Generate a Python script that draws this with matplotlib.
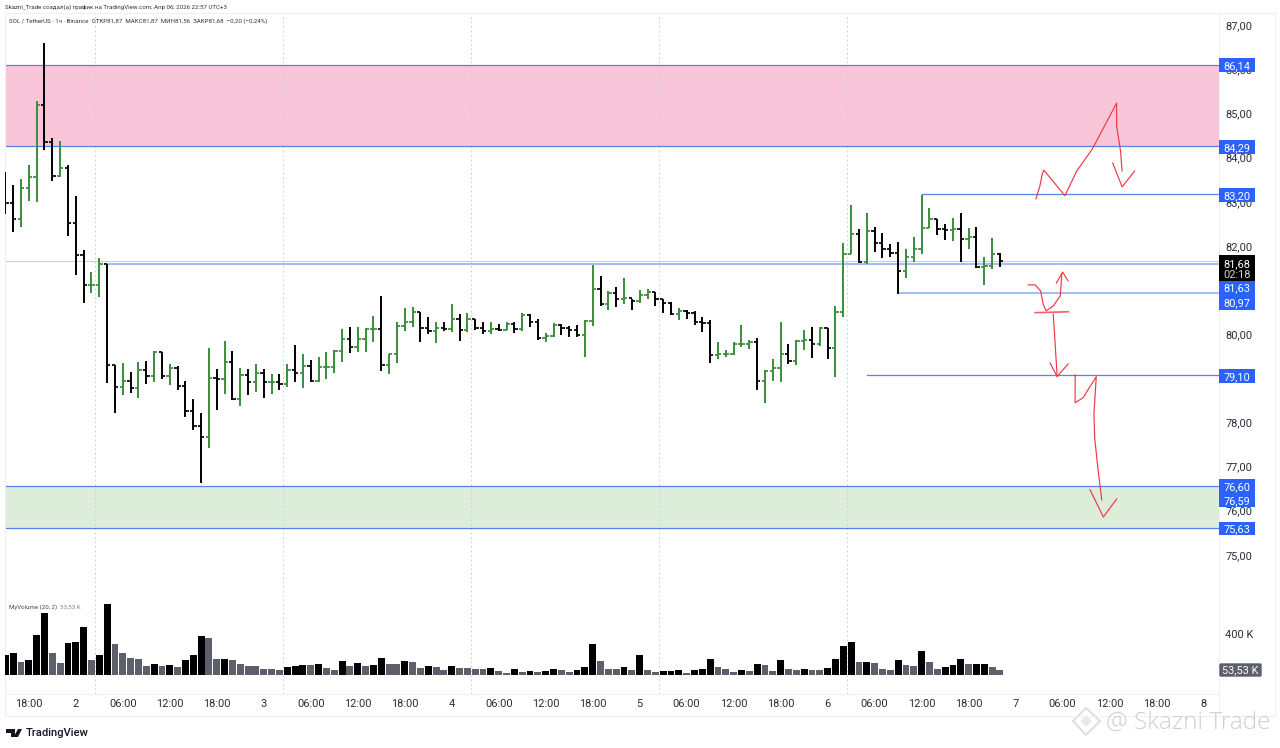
import numpy as np
import matplotlib
matplotlib.use("Agg")
from matplotlib import pyplot as plt
from matplotlib.lines import Line2D
from matplotlib.patches import Polygon, Rectangle, FancyBboxPatch
from matplotlib.ticker import FuncFormatter
from matplotlib.transforms import ScaledTranslation

plt.rcParams['font.family'] = ['Roboto', 'DejaVu Sans']

W, H = 1280, 748

# hourly bars, SOL / TetherUS
highs = [83.71, 83.41, 83.55, 83.87, 85.32, 86.63, 84.48, 84.41, 83.87, 83.17,
         81.94, 81.44, 81.76, 81.63, 79.34, 79.38, 79.18, 79.41, 79.43, 79.65,
         79.63, 79.36, 79.31, 78.97, 78.57, 78.25, 79.72, 79.25, 79.88, 79.65,
         79.27, 79.25, 79.36, 79.25, 79.13, 79.13, 79.36, 79.79, 79.59, 79.45,
         79.52, 79.63, 79.68, 80.15, 80.20, 80.20, 80.18, 80.45, 80.90, 79.59,
         80.31, 80.63, 80.65, 80.54, 80.42, 80.31, 80.31, 80.72, 80.49, 80.52,
         80.38, 80.31, 80.31, 80.27, 80.31, 80.31, 80.52, 80.49, 80.38, 80.06,
         80.29, 80.27, 80.22, 80.24, 80.36, 81.61, 81.35, 81.01, 81.10, 81.31,
         80.83, 81.04, 81.06, 80.99, 80.83, 80.76, 80.63, 80.58, 80.56, 80.42,
         80.36, 79.86, 79.68, 79.86, 80.24, 79.90, 79.95, 79.22, 79.47, 80.31,
         79.81, 79.90, 80.13, 80.20, 80.20, 80.18, 80.67, 82.10, 82.96, 82.42,
         82.78, 82.46, 82.33, 82.08, 82.12, 81.96, 82.24, 83.19, 82.89, 82.64,
         82.53, 82.67, 82.78, 82.44, 82.46, 81.78, 82.21, 81.87]
lows = [82.76, 82.35, 82.46, 83.05, 83.03, 84.21, 83.51, 83.60, 82.26, 81.38,
        80.74, 80.97, 80.88, 78.93, 78.25, 78.66, 78.70, 78.59, 78.91, 78.95,
        79.02, 78.88, 78.77, 78.16, 77.87, 76.66, 77.46, 78.32, 78.68, 78.54,
        78.41, 78.66, 78.73, 78.59, 78.68, 78.77, 78.84, 78.95, 78.82, 78.95,
        78.95, 79.02, 79.16, 79.41, 79.61, 79.63, 79.63, 79.86, 79.20, 79.13,
        79.38, 80.11, 80.20, 79.86, 80.04, 79.84, 80.11, 80.08, 79.88, 80.08,
        80.13, 80.04, 80.04, 80.11, 80.13, 80.06, 80.11, 80.20, 79.90, 79.86,
        79.97, 80.02, 79.97, 79.97, 79.52, 80.22, 80.67, 80.58, 80.65, 80.72,
        80.58, 80.74, 80.83, 80.67, 80.52, 80.47, 80.36, 80.38, 80.24, 80.08,
        79.38, 79.47, 79.52, 79.56, 79.75, 79.70, 78.77, 78.48, 78.97, 78.95,
        79.36, 79.34, 79.68, 79.50, 79.77, 79.47, 79.07, 80.42, 81.85, 81.65,
        81.63, 81.90, 81.76, 81.78, 80.95, 81.31, 81.67, 81.85, 82.44, 82.28,
        82.17, 82.15, 81.67, 81.96, 81.53, 81.15, 81.51, 81.56]
closes = [83.01, 82.64, 83.35, 83.60, 85.23, 84.39, 83.62, 83.80, 82.55, 81.83,
          81.15, 81.15, 81.63, 79.34, 78.84, 78.97, 78.82, 79.22, 79.09, 79.63,
          79.09, 79.27, 78.86, 78.30, 77.96, 77.71, 79.04, 79.02, 79.41, 78.57,
          79.11, 78.95, 79.16, 78.95, 78.95, 78.91, 79.22, 79.16, 79.31, 78.97,
          79.29, 79.29, 79.65, 79.93, 79.75, 79.93, 80.15, 80.15, 79.34, 79.59,
          80.22, 80.31, 80.54, 80.18, 80.11, 80.18, 80.15, 80.38, 80.13, 80.38,
          80.18, 80.11, 80.15, 80.13, 80.27, 80.15, 80.47, 80.31, 79.95, 79.99,
          80.24, 80.18, 80.13, 80.02, 80.33, 81.06, 80.72, 80.97, 80.83, 80.86,
          80.79, 80.92, 80.99, 80.83, 80.74, 80.49, 80.56, 80.52, 80.31, 80.29,
          79.56, 79.59, 79.59, 79.81, 79.81, 79.86, 78.97, 79.20, 79.27, 79.59,
          79.43, 79.88, 79.90, 79.81, 80.18, 79.72, 80.54, 81.85, 82.30, 81.67,
          82.37, 82.10, 81.96, 81.87, 81.46, 81.78, 81.96, 82.44, 82.64, 82.42,
          82.40, 82.42, 82.19, 82.24, 81.56, 81.58, 81.85, 81.68]
first_open = 83.40

# volume in thousands
volumes = [198, 218, 127, 146, 387, 608, 215, 114, 312, 322,
           465, 146, 198, 692, 302, 211, 166, 159, 88, 107,
           91, 98, 81, 146, 198, 384, 361, 153, 159, 143,
           107, 91, 90, 62, 55, 52, 81, 91, 98, 96,
           110, 68, 52, 136, 88, 120, 90, 94, 166, 110,
           104, 136, 130, 72, 91, 81, 52, 88, 72, 68,
           62, 58, 68, 36, 23, 62, 33, 35, 26, 36,
           55, 46, 29, 46, 81, 299, 140, 62, 60, 81,
           46, 198, 46, 33, 36, 39, 46, 20, 49, 55,
           156, 78, 58, 33, 49, 36, 104, 102, 42, 150,
           58, 49, 62, 49, 46, 65, 156, 286, 325, 130,
           132, 117, 62, 49, 146, 101, 88, 234, 124, 58,
           75, 98, 159, 104, 107, 109, 75, 53.53]

time_labels = ['18:00', '2', '06:00', '12:00', '18:00', '3', '06:00', '12:00', '18:00', '4',
               '06:00', '12:00', '18:00', '5', '06:00', '12:00', '18:00', '6', '06:00', '12:00',
               '18:00', '7', '06:00', '12:00', '18:00', '8']
session_breaks = [11.5, 35.5, 59.5, 83.5, 107.5]
# 81 and 79 sit fully behind the level tags
price_ticks = [87, 86, 85, 84, 83, 82, 80, 78, 77, 76, 75]

# drawn levels: price, first bar
level_prices = [86.14, 84.29, 81.63, 83.20, 80.97, 79.10, 76.60, 75.63]
level_starts = [0, 0, 13, 117, 114, 110, 0, 0]

# hand drawn red strokes: bar index, price
stroke_a_x = [131.6, 132.1, 132.4, 132.6, 135.3, 136.8, 138.8, 141.9, 141.9, 142.4, 142.6]
stroke_a_y = [83.10, 83.39, 83.66, 83.75, 83.17, 83.73, 84.23, 85.27, 84.75, 84.18, 83.73]
head_a_x = [141.4, 142.6, 144.2]
head_a_y = [83.91, 83.37, 83.73]
stroke_b_x = [130.6, 131.5, 132.2, 132.5, 132.9, 133.8, 134.7, 134.9]
stroke_b_y = [81.15, 81.15, 81.01, 80.72, 80.56, 80.67, 80.90, 81.40]
head_b_x = [134.2, 135.0, 135.7]
head_b_y = [81.19, 81.44, 81.24]
floor_x = [131.5, 135.7]
floor_y = [80.52, 80.54]
stroke_c_x = [133.8, 134.0, 134.3]
stroke_c_y = [80.49, 79.95, 79.09]
head_c_x = [133.4, 134.3, 135.7]
head_c_y = [79.38, 79.07, 79.36]
stroke_d_x = [136.6, 136.6, 137.6, 139.3, 139.0, 139.1, 139.5, 140.0]
stroke_d_y = [79.11, 78.48, 78.59, 79.07, 78.23, 77.68, 77.00, 76.28]
head_d_x = [138.5, 140.2, 141.9]
head_d_y = [76.51, 75.89, 76.30]

BLACK = '#000000'
GREEN = '#388e3c'
VOL_GREY = '#5d606b'
BLUE = '#2962ff'
LINE_BLUE = '#5b7fe8'
PALE_BLUE = '#a5bff5'
RED = '#f23645'
TEXT = '#2a2e39'
FRAME = '#eef0f4'


def fx(x):
    return x / W


def fy(y):
    return 1 - y / H


def px_axes(left, top, right, bottom):
    return fig.add_axes([fx(left), fy(bottom), (right - left) / W, (bottom - top) / H])


def px_line(x0, y0, x1, y1, color=FRAME):
    fig.add_artist(Line2D([fx(x0), fx(x1)], [fy(y0), fy(y1)], color=color, lw=0.8))


def px_poly(points, **kwargs):
    fig.add_artist(Polygon([(fx(x), fy(y)) for x, y in points], closed=True,
                           transform=fig.transFigure, **kwargs))


def price_tag(text, top, bottom, color=BLUE):
    fig.add_artist(Rectangle((fx(1219), fy(bottom)), 36 / W, (bottom - top) / H,
                             transform=fig.transFigure, fc=color, ec='none'))
    fig.text(fx(1237), fy((top + bottom) / 2), text, color='white', fontsize=7.9,
             ha='center', va='center_baseline')


fig = plt.figure(figsize=(W / 100, H / 100), dpi=100, facecolor='white')

opens = [first_open] + closes[:-1]
idx = np.arange(len(closes))
colors = [GREEN if c >= o else BLACK for o, c in zip(opens, closes)]

ax = px_axes(5, 13, 1219, 694)
ax.set_xlim(-0.04, 154.97)
ax.set_ylim(71.88, 87.31)

ax.axhspan(84.29, 86.14, color='#f9c6d9', lw=0, zorder=1)
ax.axhspan(75.63, 76.60, color='#dcedda', lw=0, zorder=1)
for b in session_breaks:
    ax.axvline(b, color='#bcd3f2', lw=0.8, ls=(0, (1.5, 2.5)), zorder=1.5)

ax.axhline(closes[-1], color='#cfcfcf', lw=0.8, zorder=1.6)
for p, s in zip(level_prices, level_starts):
    pale = p in (81.63, 80.97)
    ax.plot([s, 155], [p, p], color=PALE_BLUE if pale else LINE_BLUE,
            lw=1.5 if pale else 0.9, zorder=1.8)

ax.vlines(idx, lows, highs, colors=colors, lw=1.4, zorder=3)
ax.hlines(opens, idx - 0.42, idx, colors=colors, lw=1.25, zorder=3)
ax.hlines(closes, idx, idx + 0.42, colors=colors, lw=1.25, zorder=3)

for sx, sy in [(stroke_a_x, stroke_a_y), (head_a_x, head_a_y), (stroke_b_x, stroke_b_y),
               (head_b_x, head_b_y), (stroke_c_x, stroke_c_y), (head_c_x, head_c_y),
               (stroke_d_x, stroke_d_y), (head_d_x, head_d_y)]:
    ax.plot(sx, sy, color=RED, lw=0.85, zorder=4, solid_joinstyle='round')
ax.plot(floor_x, floor_y, color='#f4606c', lw=1.2, zorder=4)

ax.yaxis.tick_right()
ax.set_yticks(price_ticks)
ax.yaxis.set_major_formatter(FuncFormatter(lambda v, pos: f'{v:.2f}'.replace('.', ',')))
ax.tick_params(axis='y', length=0, pad=4.5, labelsize=7.9, labelcolor=TEXT)
ax.set_xticks([])
# price labels sit a little above their true level
lift = ScaledTranslation(0, 1.5 / 100, fig.dpi_scale_trans)
for label in ax.get_yticklabels():
    label.set_transform(label.get_transform() + lift)
for s in ax.spines.values():
    s.set_color(FRAME)
    s.set_linewidth(0.8)

vol = px_axes(5, 596, 1219, 694)
vol.patch.set_alpha(0)
vol.set_xlim(-0.04, 154.97)
vol.set_ylim(-185, 771)
vol_colors = [BLACK if i == 0 or volumes[i] > volumes[i - 1] else VOL_GREY for i in idx]
vol.bar(idx, volumes, width=0.88, color=vol_colors)
vol.yaxis.tick_right()
vol.set_yticks([400])
vol.set_yticklabels(['400 K'])
vol.tick_params(axis='y', length=0, pad=4.5, labelsize=7.9, labelcolor=TEXT)
vol.set_xticks(np.arange(3, 154, 6))
vol.set_xticklabels(time_labels)
vol.tick_params(axis='x', length=0, pad=3.5, labelsize=7.9, labelcolor=TEXT)
for s in vol.spines.values():
    s.set_visible(False)

# outer frame of the chart
px_line(5, 716, 1275, 716)
px_line(1275, 13, 1275, 716)
px_line(1219, 13, 1275, 13)
px_line(5, 694, 5, 716)
px_line(1219, 694, 1219, 716)

price_tag('86,14', 58, 72)
price_tag('84,29', 140, 154)
price_tag('83,20', 188, 202)
price_tag('81,63', 281, 294)
price_tag('80,97', 294, 310)
price_tag('79,10', 369, 383)
price_tag('76,60', 479, 493)
price_tag('76,59', 493, 507)
price_tag('75,63', 522, 535)

fig.add_artist(Rectangle((fx(1219), fy(281)), 36 / W, 26 / H, transform=fig.transFigure,
                         fc=BLACK, ec='none'))
fig.text(fx(1237), fy(263), '81,68', color='white', fontsize=7.9, ha='center', va='center_baseline')
fig.text(fx(1237), fy(273.5), '02:18', color='#d0d0d0', fontsize=7.9, ha='center', va='center_baseline')

fig.add_artist(FancyBboxPatch((fx(1220), fy(676)), 41 / W, 12 / H, transform=fig.transFigure,
                              boxstyle='round,pad=0,rounding_size=0.001', fc=VOL_GREY, ec=VOL_GREY, lw=1))
fig.text(fx(1240.5), fy(669.5), '53,53 K', color='white', fontsize=7.9, ha='center', va='center_baseline')

fig.text(fx(5), fy(7.5), 'Skazni_Trade создал(а) график на TradingView.com, Апр 06, 2026 22:57 UTC+3',
         fontsize=4.45, color='#333333', va='center')
fig.text(fx(9), fy(21), 'SOL / TetherUS · 1ч · Binance  ОТКР81,87  МАКС81,87  МИН81,56  ЗАКР81,68  −0,20 (−0,24%)',
         fontsize=4.45, color='#333333', va='center')
fig.text(fx(9), fy(607), 'MyVolume (20, 2)', fontsize=4.45, color='#444444', va='center')
fig.text(fx(60), fy(607), '53,53 K', fontsize=4.45, color='#888888', va='center')

# TradingView mark
px_poly([(6, 729), (15, 729), (15, 737), (10.5, 737), (10.5, 733), (6, 733)], fc='#131722', ec='none')
px_poly([(18, 729), (22, 729), (18, 737), (13.5, 737)], fc='#131722', ec='none')
fig.text(fx(25.5), fy(733), 'TradingView', fontsize=8.1, fontweight='medium', color='#131722', va='center')

# watermark over the corner
px_poly([(1086, 708), (1100, 721), (1086, 735), (1073, 721)], fc='none', ec='#dddddd', lw=1.4)
px_poly([(1086, 716), (1091, 721), (1086, 726), (1081, 721)], fc='#e8e8e8', ec='#e8e8e8', lw=0.8)
fig.text(fx(1106), fy(723), '@ Skazni Trade', fontsize=17.6, color='#cfcfcf', va='center',
         family=['Open Sans', 'DejaVu Sans'], fontweight='light')

plt.savefig('out.png', dpi=100)
